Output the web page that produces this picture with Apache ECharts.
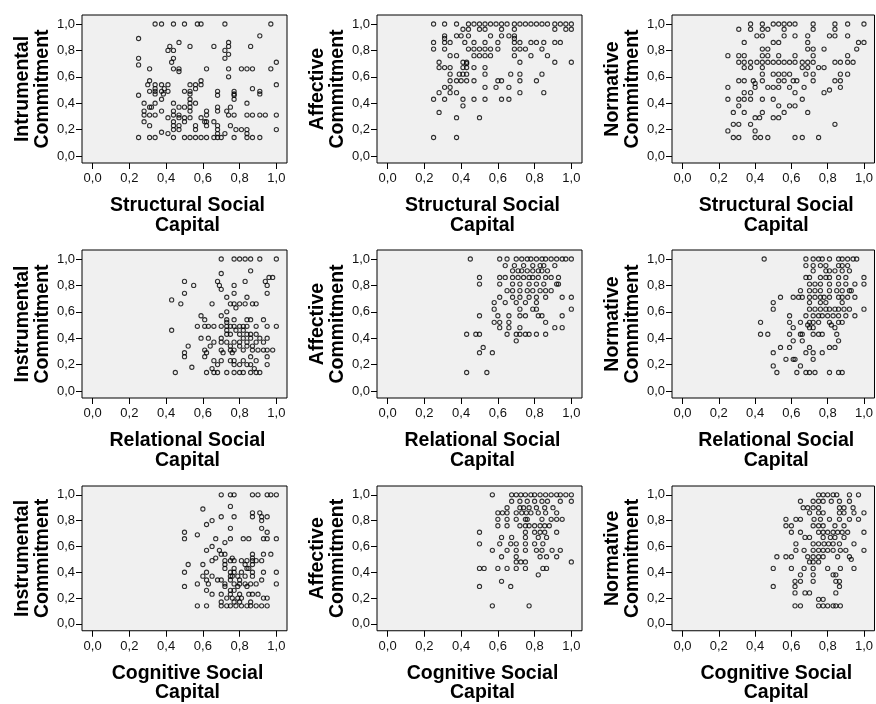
<!DOCTYPE html>
<html>
<head>
<meta charset="utf-8">
<script src="https://cdn.jsdelivr.net/npm/echarts@6/dist/echarts.min.js"></script>
<style>
html,body{margin:0;padding:0;background:#fff;}
#chart{width:876px;height:704px;}
</style>
</head>
<body>
<div id="chart"></div>
<script>
// ---- Data ----
const xTitles = ['Structural Social\nCapital', 'Relational Social\nCapital', 'Cognitive Social\nCapital'];
const yTitles = [
  ['Intrumental\nCommitment', 'Affective\nCommitment', 'Normative\nCommitment'],
  ['Instrumental\nCommitment', 'Affective\nCommitment', 'Normative\nCommitment'],
  ['Instrumental\nCommitment', 'Affective\nCommitment', 'Normative\nCommitment']
];
const tickValues = [0, 0.2, 0.4, 0.6, 0.8, 1.0];

const structInstr = [
[0.34,1],[0.375,1],[0.44,1],[0.5,1],[0.57,1],[0.59,1],[0.72,1],[0.97,1],
[0.91,0.91],[0.25,0.89],[0.47,0.86],[0.74,0.86],
[0.42,0.83],[0.53,0.83],[0.66,0.83],[0.74,0.83],[0.86,0.83],
[0.41,0.8],[0.44,0.8],[0.72,0.8],[0.74,0.77],
[0.25,0.74],[0.44,0.74],[0.72,0.74],
[0.43,0.71],[1.0,0.71],[0.25,0.69],
[0.31,0.66],[0.44,0.66],[0.47,0.66],[0.62,0.66],[0.74,0.66],[0.81,0.66],[0.84,0.66],[0.87,0.66],[0.97,0.66],
[0.47,0.64],[0.74,0.6],[0.31,0.57],[0.59,0.57],
[0.3,0.54],[0.34,0.54],[0.375,0.54],[0.41,0.54],[0.53,0.54],[0.56,0.54],[0.59,0.54],[1.0,0.54],
[0.34,0.51],[0.39,0.51],[0.56,0.51],[0.87,0.51],
[0.31,0.49],[0.34,0.49],[0.375,0.49],[0.41,0.49],[0.5,0.49],[0.53,0.49],[0.68,0.49],[0.77,0.49],[0.91,0.49],
[0.34,0.47],[0.385,0.47],[0.53,0.47],[0.77,0.47],[0.91,0.47],
[0.25,0.46],[0.68,0.46],[0.77,0.46],
[0.375,0.43],[0.53,0.43],[0.77,0.43],
[0.28,0.4],[0.34,0.4],[0.44,0.4],[0.53,0.4],[0.56,0.4],[0.84,0.4],
[0.31,0.37],[0.32,0.37],[0.47,0.37],[0.5,0.37],[0.53,0.37],[0.68,0.37],[0.75,0.37],
[0.28,0.34],[0.375,0.34],[0.44,0.34],[0.53,0.34],[0.62,0.34],[0.68,0.34],[0.73,0.34],
[0.28,0.31],[0.31,0.31],[0.34,0.31],[0.44,0.31],[0.47,0.31],[0.62,0.31],[0.74,0.31],[0.77,0.31],[0.84,0.31],[0.87,0.31],[0.91,0.31],[0.94,0.31],[1.0,0.31],
[0.41,0.29],[0.47,0.29],[0.5,0.29],[0.53,0.29],[0.59,0.29],
[0.28,0.26],[0.44,0.26],[0.5,0.26],[0.61,0.26],[0.62,0.26],[0.66,0.26],
[0.31,0.23],[0.44,0.23],[0.47,0.23],[0.56,0.23],[0.62,0.23],[0.68,0.23],[0.75,0.23],
[0.44,0.2],[0.47,0.2],[0.56,0.2],[0.68,0.2],[0.78,0.2],[0.81,0.2],[0.84,0.2],[1.0,0.2],
[0.375,0.18],[0.41,0.17],[0.68,0.17],[0.72,0.17],[0.84,0.17],
[0.25,0.14],[0.31,0.14],[0.34,0.14],[0.44,0.14],[0.5,0.14],[0.53,0.14],[0.56,0.14],[0.59,0.14],[0.62,0.14],[0.66,0.14],[0.68,0.14],[0.7,0.14],[0.77,0.14],[0.84,0.14],[0.87,0.14],[0.91,0.14]
];

const structAffect = [
[0.25,1],[0.31,1],[0.375,1],[0.44,1],[0.47,1],[0.5,1],[0.53,1],[0.56,1],[0.59,1],[0.62,1],[0.65,1],[0.69,1],[0.72,1],[0.75,1],[0.78,1],[0.81,1],[0.84,1],[0.87,1],[0.91,1],[0.94,1],[0.97,1],[1.0,1],
[0.41,0.96],[0.44,0.96],[0.5,0.96],[0.53,0.96],[0.62,0.96],[0.69,0.96],[0.91,0.96],[0.97,0.96],[1.0,0.96],
[0.31,0.91],[0.375,0.91],[0.4,0.91],[0.44,0.91],[0.56,0.91],[0.62,0.91],[0.66,0.91],[0.69,0.91],
[0.31,0.89],[0.69,0.89],
[0.25,0.86],[0.31,0.86],[0.34,0.86],[0.42,0.86],[0.47,0.86],[0.53,0.86],[0.6,0.86],[0.69,0.86],[0.72,0.86],[0.78,0.86],[0.81,0.86],[0.85,0.86],[0.91,0.86],[0.94,0.86],
[0.25,0.81],[0.31,0.81],[0.44,0.81],[0.47,0.81],[0.5,0.81],[0.53,0.81],[0.56,0.81],[0.6,0.81],[0.69,0.81],[0.72,0.81],[0.75,0.81],[0.84,0.81],
[0.34,0.76],[0.375,0.76],[0.47,0.76],[0.5,0.76],[0.53,0.76],[0.56,0.76],[0.69,0.76],[0.78,0.76],[0.87,0.76],
[0.28,0.71],[0.41,0.71],[0.43,0.71],[0.72,0.71],[0.91,0.71],[1.0,0.71],[0.43,0.7],
[0.28,0.67],[0.31,0.67],[0.34,0.67],[0.41,0.67],[0.43,0.67],[0.47,0.67],[0.53,0.67],
[0.34,0.62],[0.39,0.62],[0.41,0.62],[0.43,0.62],[0.53,0.62],[0.67,0.62],[0.72,0.62],[0.84,0.62],
[0.34,0.57],[0.375,0.57],[0.4,0.57],[0.43,0.57],[0.47,0.57],[0.6,0.57],[0.62,0.57],[0.72,0.57],[0.81,0.57],
[0.31,0.52],[0.34,0.52],[0.53,0.52],[0.59,0.52],[0.66,0.52],
[0.28,0.48],[0.34,0.48],[0.375,0.48],[0.72,0.48],[0.85,0.48],
[0.25,0.43],[0.31,0.43],[0.41,0.43],[0.47,0.43],[0.53,0.43],[0.62,0.43],[0.66,0.43],
[0.41,0.38],[0.28,0.33],[0.375,0.29],[0.5,0.29],[0.25,0.14],[0.375,0.14]
];

const structNorm = [
[0.375,1],[0.44,1],[0.5,1],[0.53,1],[0.56,1],[0.59,1],[0.62,1],[0.72,1],[0.84,1],[0.91,1],[1.0,1],
[0.31,0.96],[0.375,0.96],[0.44,0.96],[0.47,0.96],[0.56,0.96],[0.72,0.96],[0.84,0.96],
[0.41,0.91],[0.44,0.91],[0.56,0.91],[0.62,0.91],[0.69,0.91],[0.81,0.91],[0.84,0.91],[0.91,0.91],
[0.34,0.86],[0.5,0.86],[0.53,0.86],[0.69,0.86],[0.97,0.86],[1.0,0.86],
[0.44,0.81],[0.47,0.81],[0.69,0.81],[0.72,0.81],[0.78,0.81],[0.96,0.81],
[0.25,0.76],[0.31,0.76],[0.34,0.76],[0.44,0.76],[0.47,0.76],[0.53,0.76],[0.62,0.76],[0.72,0.76],[0.91,0.76],
[0.31,0.71],[0.34,0.71],[0.375,0.71],[0.41,0.71],[0.44,0.71],[0.47,0.71],[0.5,0.71],[0.53,0.71],[0.56,0.71],[0.59,0.71],[0.62,0.71],[0.66,0.71],[0.69,0.71],[0.72,0.71],[0.84,0.71],[0.87,0.71],[0.91,0.71],[0.94,0.71],
[0.34,0.67],[0.375,0.67],[0.44,0.67],[0.66,0.67],[0.69,0.67],[0.75,0.67],[0.78,0.67],
[0.44,0.62],[0.5,0.62],[0.53,0.62],[0.56,0.62],[0.59,0.62],[0.68,0.62],[0.72,0.62],[0.87,0.62],[0.91,0.62],
[0.31,0.57],[0.34,0.57],[0.39,0.57],[0.44,0.57],[0.53,0.57],[0.56,0.57],[0.61,0.57],[0.63,0.57],[0.72,0.57],[0.84,0.57],[0.87,0.57],
[0.4,0.55],
[0.25,0.52],[0.4,0.52],[0.47,0.52],[0.5,0.52],[0.53,0.52],[0.59,0.52],[0.67,0.52],[0.87,0.52],
[0.81,0.5],
[0.34,0.48],[0.375,0.48],[0.62,0.48],[0.78,0.48],
[0.25,0.43],[0.31,0.43],[0.34,0.43],[0.375,0.43],[0.44,0.43],[0.5,0.43],[0.66,0.43],
[0.31,0.38],[0.53,0.38],[0.59,0.38],[0.62,0.38],
[0.28,0.33],[0.34,0.33],[0.44,0.33],[0.56,0.33],[0.69,0.33],
[0.4,0.29],[0.425,0.29],[0.5,0.29],[0.53,0.29],
[0.28,0.24],[0.31,0.24],[0.375,0.24],[0.84,0.24],
[0.25,0.19],[0.4,0.19],
[0.28,0.14],[0.31,0.14],[0.4,0.14],[0.43,0.14],[0.47,0.14],[0.62,0.14],[0.66,0.14],[0.75,0.14]
];

const relInstr = [
[0.7,1],[0.77,1],[0.8,1],[0.83,1],[0.86,1],[0.91,1],[1.0,1],
[0.86,0.91],[0.7,0.89],[0.96,0.86],[0.98,0.86],
[0.5,0.83],[0.68,0.83],[0.83,0.83],[0.94,0.83],
[0.55,0.8],[0.69,0.8],[0.77,0.8],[0.95,0.8],
[0.7,0.77],
[0.5,0.74],[0.77,0.74],[0.95,0.74],
[0.73,0.71],[0.84,0.71],
[0.43,0.69],
[0.48,0.66],[0.65,0.66],[0.75,0.66],[0.77,0.66],[0.8,0.66],[0.83,0.66],[0.87,0.66],[0.89,0.66],
[0.78,0.63],[0.73,0.6],
[0.59,0.57],[0.7,0.57],
[0.61,0.54],[0.73,0.54],[0.77,0.54],[0.84,0.54],[0.86,0.54],[0.93,0.54],
[0.73,0.52],
[0.57,0.49],[0.61,0.49],[0.63,0.49],[0.66,0.49],[0.7,0.49],[0.73,0.49],[0.75,0.49],[0.77,0.49],[0.8,0.49],[0.82,0.49],[0.84,0.49],[0.89,0.49],[0.95,0.49],[1.0,0.49],
[0.43,0.46],[0.73,0.46],[0.78,0.46],[0.82,0.46],
[0.73,0.43],[0.75,0.43],[0.8,0.43],[0.84,0.43],[0.86,0.43],[0.89,0.43],
[0.59,0.4],[0.63,0.4],[0.7,0.4],[0.82,0.4],[0.86,0.4],[0.91,0.4],[0.95,0.4],
[0.66,0.37],[0.7,0.37],[0.73,0.37],[0.77,0.37],[0.8,0.37],[0.84,0.37],[0.89,0.37],[0.93,0.37],
[0.52,0.34],[0.64,0.34],[0.75,0.34],[0.8,0.34],[0.84,0.34],[0.87,0.34],
[0.61,0.31],[0.7,0.31],[0.75,0.31],[0.77,0.31],[0.82,0.31],[0.87,0.31],[0.9,0.31],[0.93,0.31],[0.95,0.31],[0.98,0.31],
[0.5,0.29],[0.62,0.29],[0.71,0.29],[0.76,0.29],
[0.5,0.26],[0.61,0.26],[0.86,0.26],[0.95,0.26],
[0.66,0.23],[0.7,0.23],[0.75,0.23],[0.77,0.23],[0.82,0.23],[0.89,0.23],
[0.68,0.2],[0.77,0.2],[0.8,0.2],[0.84,0.2],[0.86,0.2],[0.95,0.2],
[0.54,0.18],[0.65,0.17],[0.88,0.17],
[0.45,0.14],[0.62,0.14],[0.66,0.14],[0.68,0.14],[0.73,0.14],[0.77,0.14],[0.8,0.14],[0.82,0.14],[0.86,0.14],[0.89,0.14],[0.91,0.14]
];

const relAffect = [
[0.45,1],[0.61,1],[0.65,1],[0.7,1],[0.73,1],[0.76,1],[0.78,1],[0.81,1],[0.84,1],[0.86,1],[0.89,1],[0.92,1],[0.95,1],[0.97,1],[1.0,1],
[0.64,0.95],[0.69,0.95],[0.74,0.95],[0.79,0.95],[0.83,0.95],[0.85,0.95],[0.91,0.95],
[0.68,0.91],[0.71,0.91],[0.73,0.91],[0.76,0.91],[0.79,0.91],[0.82,0.91],[0.84,0.91],[0.87,0.91],
[0.5,0.86],[0.61,0.86],[0.64,0.86],[0.68,0.86],[0.71,0.86],[0.74,0.86],[0.77,0.86],[0.79,0.86],[0.82,0.86],[0.86,0.86],[0.89,0.86],[0.93,0.86],
[0.5,0.81],[0.61,0.81],[0.68,0.81],[0.72,0.81],[0.77,0.81],[0.81,0.81],[0.85,0.81],[0.92,0.81],[0.93,0.81],
[0.65,0.76],[0.68,0.76],[0.72,0.76],[0.76,0.76],[0.79,0.76],[0.83,0.76],[0.86,0.76],[0.89,0.76],
[0.61,0.71],[0.68,0.71],[0.72,0.71],[0.77,0.71],[0.81,0.71],[0.86,0.71],[0.95,0.71],[1.0,0.71],
[0.58,0.67],[0.64,0.67],[0.7,0.67],[0.75,0.67],[0.81,0.67],
[0.58,0.62],[0.72,0.62],[0.79,0.62],[0.81,0.62],[1.0,0.62],
[0.5,0.57],[0.6,0.57],[0.66,0.57],[0.72,0.57],[0.75,0.57],[0.82,0.57],[0.84,0.57],[0.95,0.57],
[0.58,0.52],[0.61,0.52],[0.66,0.52],[0.86,0.52],
[0.61,0.48],[0.66,0.48],[0.72,0.48],[0.91,0.48],[0.95,0.48],
[0.43,0.43],[0.48,0.43],[0.5,0.43],[0.65,0.43],[0.7,0.43],[0.72,0.43],[0.75,0.43],[0.77,0.43],[0.81,0.43],[0.86,0.43],
[0.7,0.38],[0.52,0.33],[0.5,0.29],[0.57,0.29],[0.43,0.14],[0.54,0.14]
];

const relNorm = [
[0.45,1],[0.68,1],[0.72,1],[0.75,1],[0.77,1],[0.81,1],[0.86,1],[0.88,1],[0.91,1],[0.94,1],[0.96,1],
[0.68,0.95],[0.72,0.95],[0.76,0.95],[0.79,0.95],[0.86,0.95],[0.88,0.95],[0.91,0.95],
[0.72,0.91],[0.79,0.91],[0.81,0.91],[0.84,0.91],[0.88,0.91],[0.92,0.91],
[0.68,0.86],[0.7,0.86],[0.76,0.86],[0.79,0.86],[0.81,0.86],[0.86,0.86],[0.9,0.86],[1.0,0.86],
[0.7,0.81],[0.73,0.81],[0.76,0.81],[0.81,0.81],[0.86,0.81],[0.9,0.81],[0.95,0.81],[1.0,0.81],
[0.65,0.76],[0.7,0.76],[0.73,0.76],[0.76,0.76],[0.81,0.76],[0.85,0.76],[0.88,0.76],[0.92,0.76],[0.93,0.76],
[0.54,0.71],[0.61,0.71],[0.64,0.71],[0.66,0.71],[0.7,0.71],[0.73,0.71],[0.76,0.71],[0.78,0.71],[0.81,0.71],[0.86,0.71],[0.88,0.71],[0.91,0.71],[0.95,0.71],
[0.5,0.67],[0.7,0.67],[0.76,0.67],[0.79,0.67],[0.88,0.67],
[0.5,0.62],[0.7,0.62],[0.73,0.62],[0.76,0.62],[0.79,0.62],[0.81,0.62],[0.84,0.62],[0.86,0.62],[0.89,0.62],[0.92,0.62],[1.0,0.62],
[0.59,0.57],[0.68,0.57],[0.72,0.57],[0.75,0.57],[0.77,0.57],[0.8,0.57],[0.83,0.57],[0.86,0.57],[0.9,0.57],[0.95,0.57],
[0.43,0.52],[0.59,0.52],[0.65,0.52],[0.7,0.52],[0.72,0.52],[0.75,0.52],[0.81,0.52],[0.86,0.52],[0.88,0.52],
[0.69,0.5],[0.82,0.5],
[0.61,0.48],[0.7,0.48],[0.72,0.48],[0.84,0.48],
[0.43,0.43],[0.47,0.43],[0.59,0.43],[0.65,0.43],[0.66,0.43],[0.72,0.43],[0.75,0.43],[0.77,0.43],[0.85,0.43],
[0.61,0.38],[0.66,0.38],[0.86,0.38],
[0.54,0.33],[0.59,0.33],[0.7,0.33],[0.81,0.33],[0.84,0.33],
[0.5,0.29],[0.68,0.29],[0.72,0.29],[0.77,0.29],
[0.57,0.24],[0.61,0.24],[0.62,0.24],[0.72,0.24],
[0.5,0.19],[0.65,0.19],
[0.52,0.14],[0.63,0.14],[0.68,0.14],[0.7,0.14],[0.73,0.14],[0.81,0.14],[0.86,0.14],[0.88,0.14]
];

const cogInstr = [
[0.7,1],[0.75,1],[0.77,1],[0.87,1],[0.9,1],[0.95,1],[0.97,1],[1.0,1],
[0.75,0.91],[0.6,0.89],[0.87,0.86],[0.91,0.86],
[0.7,0.83],[0.77,0.83],[0.87,0.83],[0.92,0.83],[0.95,0.83],
[0.65,0.8],[0.92,0.8],[0.62,0.77],
[0.75,0.74],[0.92,0.74],
[0.5,0.71],[0.95,0.71],
[0.57,0.69],
[0.5,0.66],[0.67,0.66],[0.75,0.66],[0.82,0.66],[0.85,0.66],[0.93,0.66],[0.95,0.66],[1.0,0.66],
[0.72,0.63],[0.65,0.6],
[0.62,0.57],[0.69,0.57],
[0.7,0.54],[0.72,0.54],[0.87,0.54],[0.93,0.54],[0.97,0.54],
[0.67,0.51],[0.76,0.51],[0.87,0.51],
[0.65,0.49],[0.72,0.49],[0.75,0.49],[0.77,0.49],[0.81,0.49],[0.84,0.49],[0.87,0.49],[0.89,0.49],[0.92,0.49],
[0.52,0.46],[0.6,0.46],[0.72,0.46],[0.83,0.46],[0.87,0.46],
[0.72,0.43],[0.77,0.43],[0.84,0.43],[0.85,0.43],
[0.5,0.4],[0.62,0.4],[0.75,0.4],[0.77,0.4],[0.81,0.4],[0.87,0.4],[0.93,0.4],[1.0,0.4],
[0.6,0.37],[0.65,0.37],[0.75,0.37],[0.76,0.37],[0.79,0.37],[0.83,0.37],[0.87,0.37],
[0.62,0.34],[0.68,0.34],[0.7,0.34],[0.75,0.34],[0.8,0.34],[0.92,0.34],
[0.57,0.31],[0.63,0.31],[0.72,0.31],[0.77,0.31],[0.8,0.31],[0.83,0.31],[0.86,0.31],[0.89,0.31],[1.0,0.31],
[0.5,0.29],[0.72,0.29],[0.79,0.29],[0.84,0.29],
[0.62,0.26],[0.75,0.26],[0.77,0.26],
[0.65,0.23],[0.7,0.23],[0.75,0.23],[0.8,0.23],[0.85,0.23],[0.87,0.23],[0.9,0.23],
[0.73,0.2],[0.76,0.2],[0.79,0.2],[0.81,0.2],[0.93,0.2],[0.95,0.2],
[0.7,0.17],[0.77,0.17],[0.8,0.17],[0.86,0.17],
[0.57,0.14],[0.62,0.14],[0.7,0.14],[0.73,0.14],[0.75,0.14],[0.78,0.14],[0.81,0.14],[0.84,0.14],[0.86,0.14],[0.89,0.14],[0.92,0.14],[0.95,0.14]
];

const cogAffect = [
[0.57,1],[0.675,1],[0.7,1],[0.725,1],[0.75,1],[0.78,1],[0.8,1],[0.83,1],[0.86,1],[0.89,1],[0.92,1],[0.94,1],[0.97,1],[1.0,1],
[0.675,0.95],[0.72,0.95],[0.76,0.95],[0.8,0.95],[0.84,0.95],[0.87,0.95],[0.94,0.95],[1.0,0.95],
[0.65,0.9],[0.72,0.9],[0.74,0.9],[0.77,0.9],[0.81,0.9],[0.855,0.9],[0.9,0.9],
[0.6,0.86],[0.625,0.86],[0.65,0.86],[0.7,0.86],[0.73,0.86],[0.755,0.86],[0.78,0.86],[0.82,0.86],[0.86,0.86],[0.92,0.86],
[0.6,0.81],[0.65,0.81],[0.7,0.81],[0.75,0.81],[0.76,0.81],[0.84,0.81],[0.89,0.81],[0.92,0.81],[0.95,0.81],
[0.6,0.76],[0.65,0.76],[0.72,0.76],[0.75,0.76],[0.77,0.76],[0.8,0.76],[0.83,0.76],[0.855,0.76],[0.88,0.76],
[0.5,0.71],[0.75,0.71],[0.8,0.71],[0.83,0.71],[0.855,0.71],[0.92,0.71],
[0.62,0.67],[0.675,0.67],[0.75,0.67],[0.82,0.67],[0.865,0.67],
[0.5,0.62],[0.61,0.62],[0.67,0.62],[0.7,0.62],[0.75,0.62],[0.8,0.62],[0.845,0.62],
[0.57,0.57],[0.65,0.57],[0.7,0.57],[0.75,0.57],[0.81,0.57],[0.84,0.57],[0.895,0.57],[0.94,0.57],
[0.62,0.52],[0.7,0.52],[0.83,0.52],[0.865,0.52],[0.92,0.52],
[0.7,0.48],[0.725,0.48],[0.75,0.48],[1.0,0.48],
[0.5,0.43],[0.525,0.43],[0.6,0.43],[0.65,0.43],[0.7,0.43],[0.75,0.43],[0.845,0.43],[0.865,0.43],
[0.82,0.38],[0.62,0.33],[0.5,0.29],[0.67,0.29],[0.57,0.14],[0.77,0.14]
];

const cogNorm = [
[0.75,1],[0.775,1],[0.8,1],[0.83,1],[0.85,1],[0.92,1],[0.97,1],
[0.65,0.95],[0.72,0.95],[0.75,0.95],[0.775,0.95],[0.82,0.95],[0.865,0.95],[0.92,0.95],
[0.665,0.9],[0.69,0.9],[0.72,0.9],[0.75,0.9],[0.865,0.9],[0.89,0.9],[0.94,0.9],
[0.7,0.86],[0.75,0.86],[0.775,0.86],[0.865,0.86],[0.89,0.86],[0.945,0.86],[1.0,0.86],
[0.57,0.81],[0.625,0.81],[0.65,0.81],[0.725,0.81],[0.76,0.81],[0.81,0.81],[0.865,0.81],[0.92,0.81],[0.97,0.81],
[0.57,0.76],[0.6,0.76],[0.72,0.76],[0.75,0.76],[0.775,0.76],[0.84,0.76],[0.89,0.76],
[0.6,0.71],[0.65,0.71],[0.75,0.71],[0.775,0.71],[0.8,0.71],[0.83,0.71],[0.855,0.71],[0.88,0.71],[0.91,0.71],[1.0,0.71],
[0.675,0.67],[0.7,0.67],[0.775,0.67],[0.815,0.67],[0.84,0.67],[0.89,0.67],
[0.625,0.62],[0.72,0.62],[0.75,0.62],[0.78,0.62],[0.805,0.62],[0.83,0.62],[0.865,0.62],[0.945,0.62],
[0.625,0.57],[0.67,0.57],[0.72,0.57],[0.75,0.57],[0.775,0.57],[0.8,0.57],[0.83,0.57],[0.87,0.57],[0.9,0.57],[1.0,0.57],
[0.52,0.52],[0.57,0.52],[0.6,0.52],[0.69,0.52],[0.72,0.52],[0.75,0.52],[0.775,0.52],[0.855,0.52],[0.92,0.52],
[0.93,0.5],
[0.7,0.48],[0.72,0.48],[0.75,0.48],
[0.5,0.43],[0.6,0.43],[0.67,0.43],[0.72,0.43],[0.8,0.43],[0.87,0.43],[0.945,0.43],
[0.65,0.38],[0.72,0.38],[0.83,0.38],[0.845,0.38],
[0.62,0.33],[0.65,0.33],[0.72,0.33],[0.845,0.33],[0.865,0.33],
[0.5,0.29],[0.62,0.29],[0.865,0.29],
[0.62,0.24],[0.675,0.24],[0.7,0.24],[0.845,0.24],
[0.75,0.19],[0.775,0.19],
[0.62,0.14],[0.65,0.14],[0.75,0.14],[0.775,0.14],[0.8,0.14],[0.83,0.14],[0.845,0.14],[0.87,0.14]
];

const panels = [
  [structInstr, structAffect, structNorm],
  [relInstr, relAffect, relNorm],
  [cogInstr, cogAffect, cogNorm]
];

// ---- Layout ----
const colLeft = [82, 377, 672];
const rowTop = [15, 250, 486];
const W = 205, H = 148;
const FONT = "'Liberation Sans', Arial, sans-serif";
const fmt = v => v.toFixed(1).replace('.', ',');

const grids = [], xAxes = [], yAxes = [], series = [];
for (let r = 0; r < 3; r++) {
  for (let c = 0; c < 3; c++) {
    const i = r * 3 + c;
    grids.push({
      left: colLeft[c], top: rowTop[r], width: W, height: H,
      show: true, backgroundColor: '#f0f0f0', borderColor: '#000', borderWidth: 1
    });
    xAxes.push({
      type: 'value', gridIndex: i, min: -0.058, max: 1.058,
      splitLine: { show: false },
      axisLine: { show: false, onZero: false },
      axisTick: { show: true, customValues: tickValues, length: 6, lineStyle: { color: '#000', width: 1 } },
      axisLabel: { customValues: tickValues, formatter: fmt, fontSize: 13, color: '#111', margin: 9, fontFamily: FONT },
      name: xTitles[r], nameLocation: 'middle', nameGap: 33,
      nameTextStyle: { fontSize: 19.5, fontWeight: 'bold', fontFamily: FONT, lineHeight: 19.5, color: '#000', padding: [0, 0, 0, 6] }
    });
    yAxes.push({
      type: 'value', gridIndex: i, min: -0.053, max: 1.068,
      splitLine: { show: false },
      axisLine: { show: false, onZero: false },
      axisTick: { show: true, customValues: tickValues, length: 6, lineStyle: { color: '#000', width: 1 } },
      axisLabel: { customValues: tickValues, formatter: fmt, fontSize: 13, color: '#111', margin: 7, fontFamily: FONT },
      name: yTitles[r][c], nameLocation: 'middle', nameRotate: 90, nameGap: 30,
      nameTextStyle: { fontSize: 19.5, fontWeight: 'bold', fontFamily: FONT, lineHeight: 19.5, color: '#000' }
    });
    series.push({
      type: 'scatter', xAxisIndex: i, yAxisIndex: i,
      data: panels[r][c],
      symbol: 'circle', symbolSize: 4.2,
      itemStyle: { color: 'rgba(0,0,0,0)', borderColor: '#000', borderWidth: 1.1 },
      silent: true
    });
  }
}

const chart = echarts.init(document.getElementById('chart'), null, { renderer: 'canvas' });
chart.setOption({
  animation: false,
  backgroundColor: '#ffffff',
  grid: grids, xAxis: xAxes, yAxis: yAxes, series: series
});
</script>
</body>
</html>
